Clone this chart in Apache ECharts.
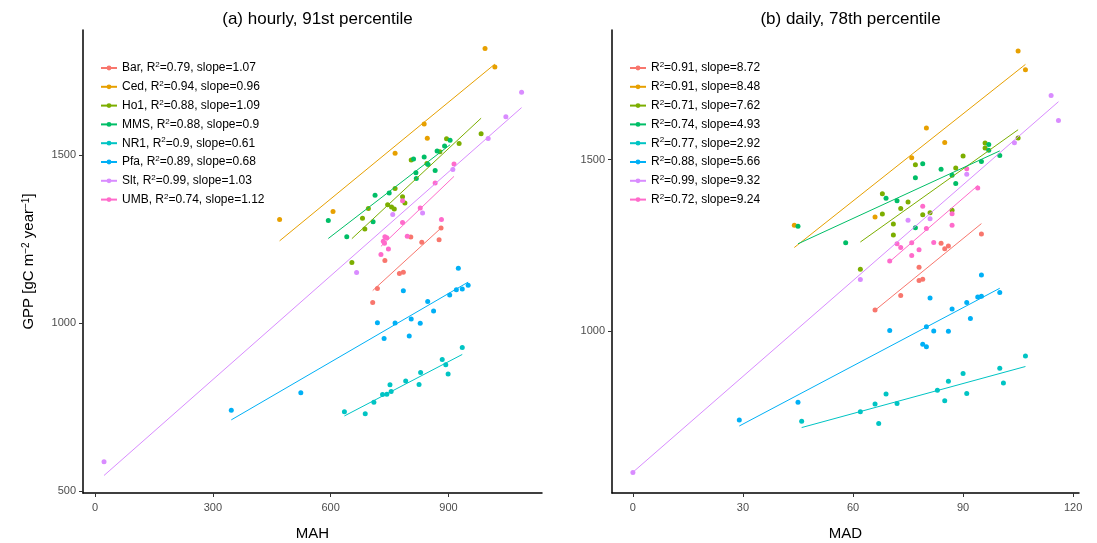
<!DOCTYPE html>
<html>
<head>
<meta charset="utf-8">
<script src="https://cdn.jsdelivr.net/npm/echarts@6/dist/echarts.min.js"></script>
<style>
  html, body { margin: 0; padding: 0; background: #fff; }
  #chart { width: 1097px; height: 543px; }
</style>
</head>
<body>
<div id="chart"></div>
<script>
// Sites and their colours
const SITES = ['Bar', 'Ced', 'Ho1', 'MMS', 'NR1', 'Pfa', 'Slt', 'UMB'];
const SITE_COLORS = ['#F8766D', '#E7A000', '#7CAE00', '#00BE67', '#00C4C4', '#00B0F6', '#D98CFF', '#FF6BCB'];

// Annual GPP per site-year, with matching MAH (hourly) and MAD (daily) values
const BAR_GPP = [1283, 1256, 1248, 1240, 1186, 1151, 1147, 1103, 1061];
const BAR_MAH = [881, 804, 876, 832, 738, 785, 775, 719, 707];
const BAR_MAD = [95, 84, 86, 85, 78, 79, 78, 73, 66];

const CED_GPP = [1817, 1762, 1592, 1550, 1505, 1332, 1308];
const CED_MAH = [993, 1018, 838, 846, 764, 606, 470];
const CED_MAD = [105, 107, 80, 85, 76, 66, 44];

const HO1_GPP = [1563, 1548, 1534, 1510, 1485, 1475, 1400, 1376, 1357, 1352, 1345, 1341, 1339, 1312, 1280, 1180];
const HO1_MAH = [983, 895, 927, 878, 805, 845, 764, 783, 789, 745, 755, 696, 762, 681, 687, 654];
const HO1_MAD = [105, 96, 96, 90, 77, 88, 68, 75, 73, 87, 81, 68, 79, 71, 71, 62];

const MMS_GPP = [1544, 1527, 1512, 1494, 1488, 1472, 1454, 1447, 1430, 1387, 1380, 1305, 1301, 1257];
const MMS_MAH = [904, 890, 871, 838, 811, 848, 866, 817, 818, 749, 713, 594, 708, 641];
const MMS_MAD = [97, 97, 100, 95, 79, 84, 87, 77, 88, 69, 72, 45, 77, 58];

const NR1_GPP = [927, 891, 876, 853, 848, 827, 817, 816, 796, 788, 787, 764, 736, 730];
const NR1_MAH = [935, 884, 893, 829, 899, 791, 825, 751, 754, 743, 732, 710, 635, 688];
const NR1_MAD = [107, 100, 90, 86, 101, 83, 91, 69, 85, 72, 66, 62, 46, 67];

const PFA_GPP = [1163, 1112, 1101, 1099, 1096, 1083, 1064, 1036, 1012, 1001, 1000, 999, 961, 954, 792, 740];
const PFA_MAH = [925, 950, 935, 920, 785, 903, 847, 862, 805, 719, 764, 828, 800, 736, 524, 347];
const PFA_MAD = [95, 100, 95, 94, 81, 91, 87, 92, 80, 70, 82, 86, 79, 80, 45, 29];

const SLT_GPP = [1687, 1614, 1549, 1457, 1327, 1323, 1150, 587];
const SLT_MAH = [1086, 1046, 1001, 911, 834, 758, 666, 23];
const SLT_MAD = [114, 116, 104, 91, 81, 75, 62, 0];

const UMB_GPP = [1473, 1417, 1364, 1342, 1308, 1299, 1258, 1257, 1254, 1243, 1237, 1220, 1204];
const UMB_MAH = [914, 866, 783, 828, 882, 783, 795, 738, 743, 734, 737, 747, 728];
const UMB_MAD = [91, 94, 79, 87, 87, 80, 82, 76, 72, 73, 78, 76, 70];

// Fit statistics shown in the legends
const R2_HOURLY = [0.79, 0.94, 0.88, 0.88, 0.9, 0.89, 0.99, 0.74];
const SLOPE_HOURLY = [1.07, 0.96, 1.09, 0.9, 0.61, 0.68, 1.03, 1.12];
const R2_DAILY = [0.91, 0.91, 0.71, 0.74, 0.77, 0.88, 0.99, 0.72];
const SLOPE_DAILY = [8.72, 8.48, 7.62, 4.93, 2.92, 5.66, 9.32, 9.24];

// Tick positions
const X_TICKS_HOURLY = [0, 300, 600, 900];
const X_TICKS_DAILY = [0, 30, 60, 90, 120];
const Y_TICKS_HOURLY = [500, 1000, 1500];
const Y_TICKS_DAILY = [1000, 1500];

const TITLES = ['(a) hourly, 91st percentile', '(b) daily, 78th percentile'];
const X_NAMES = ['MAH', 'MAD'];
const Y_NAME = 'GPP [gC m{sup|\u22122} year{sup|\u22121}]';

// ---- build the option ----
const GPP = [BAR_GPP, CED_GPP, HO1_GPP, MMS_GPP, NR1_GPP, PFA_GPP, SLT_GPP, UMB_GPP];
const MAH = [BAR_MAH, CED_MAH, HO1_MAH, MMS_MAH, NR1_MAH, PFA_MAH, SLT_MAH, UMB_MAH];
const MAD = [BAR_MAD, CED_MAD, HO1_MAD, MMS_MAD, NR1_MAD, PFA_MAD, SLT_MAD, UMB_MAD];

const FONT = "'Liberation Sans', Arial, Helvetica, sans-serif";
const mean = a => a.reduce((s, v) => s + v, 0) / a.length;

// least-squares line drawn through the means with the reported slope, over the x range
function fitLine(xs, ys, slope) {
  const mx = mean(xs), my = mean(ys);
  const x0 = Math.min(...xs), x1 = Math.max(...xs);
  return [[x0, my + slope * (x0 - mx)], [x1, my + slope * (x1 - mx)]];
}

const panels = [
  { xs: MAH, r2: R2_HOURLY, slope: SLOPE_HOURLY, tag: 'hourly', withSite: true },
  { xs: MAD, r2: R2_DAILY, slope: SLOPE_DAILY, tag: 'daily', withSite: false }
];

const series = [];
const legendLabels = {};
const legendNames = [[], []];
panels.forEach((p, pi) => {
  SITES.forEach((site, si) => {
    const name = site + ' (' + p.tag + ')';
    const lbl = (p.withSite ? site + ', ' : '') + 'R{sup|2}=' + p.r2[si] + ', slope=' + p.slope[si];
    legendLabels[name] = lbl;
    legendNames[pi].push(name);
    const xs = p.xs[si], ys = GPP[si];
    series.push({
      type: 'line', name, xAxisIndex: pi, yAxisIndex: pi,
      data: fitLine(xs, ys, p.slope[si]),
      showSymbol: false, symbol: 'circle', silent: true, z: 3,
      lineStyle: { width: 1, color: SITE_COLORS[si] },
      itemStyle: { color: SITE_COLORS[si] }
    });
    series.push({
      type: 'scatter', name, xAxisIndex: pi, yAxisIndex: pi,
      data: xs.map((x, k) => [x, ys[k]]),
      symbolSize: 5, z: 2,
      itemStyle: { color: SITE_COLORS[si], opacity: 1 }
    });
  });
});

const axisCommon = {
  type: 'value',
  splitLine: { show: false },
  axisLine: { show: true, onZero: false, lineStyle: { color: '#000', width: 1.5 } },
  axisTick: { show: true, length: 4, lineStyle: { color: '#333', width: 1 } },
  axisLabel: { color: '#4D4D4D', fontSize: 11, fontFamily: FONT, formatter: v => String(v) }
};

function xAxis(i, min, max, ticks) {
  return Object.assign({}, axisCommon, {
    gridIndex: i, min, max,
    name: X_NAMES[i], nameLocation: 'middle', nameGap: 33,
    nameTextStyle: { fontSize: 15, color: '#000', fontFamily: FONT },
    axisTick: Object.assign({}, axisCommon.axisTick, { customValues: ticks }),
    axisLabel: Object.assign({}, axisCommon.axisLabel, { customValues: ticks, margin: 9 })
  });
}
function yAxis(i, min, max, ticks, withName) {
  const ax = Object.assign({}, axisCommon, {
    gridIndex: i, min, max,
    axisTick: Object.assign({}, axisCommon.axisTick, { customValues: ticks }),
    axisLabel: Object.assign({}, axisCommon.axisLabel, { customValues: ticks, margin: 7 })
  });
  if (withName) {
    Object.assign(ax, {
      name: Y_NAME, nameLocation: 'middle', nameGap: 47, nameRotate: 90,
      nameTextStyle: {
        fontSize: 15, color: '#000', fontFamily: FONT,
        rich: { sup: { fontSize: 10, color: '#000', fontFamily: FONT, verticalAlign: 'top', lineHeight: 10 } }
      }
    });
  }
  return ax;
}

function legend(i, left) {
  return {
    orient: 'vertical', left, top: 61, padding: 0,
    itemWidth: 16, itemHeight: 6, itemGap: 4.8,
    data: legendNames[i],
    formatter: n => legendLabels[n],
    textStyle: {
      fontSize: 12, color: '#000', fontFamily: FONT, lineHeight: 14,
      rich: { sup: { fontSize: 8, color: '#000', fontFamily: FONT, verticalAlign: 'top', lineHeight: 8 } }
    }
  };
}

const option = {
  animation: false,
  backgroundColor: '#fff',
  title: [
    { text: TITLES[0], left: 312.5, top: 6, textAlign: 'center',
      textStyle: { fontSize: 17, fontWeight: 'normal', color: '#000', fontFamily: FONT } },
    { text: TITLES[1], left: 845.5, top: 6, textAlign: 'center',
      textStyle: { fontSize: 17, fontWeight: 'normal', color: '#000', fontFamily: FONT } }
  ],
  grid: [
    { left: 83, top: 30, width: 459, height: 463, outerBoundsMode: 'none' },
    { left: 612, top: 30, width: 467, height: 463, outerBoundsMode: 'none' }
  ],
  xAxis: [
    xAxis(0, -30.5, 1138, X_TICKS_HOURLY),
    xAxis(1, -5.7, 121.6, X_TICKS_DAILY)
  ],
  yAxis: [
    yAxis(0, 494, 1872, Y_TICKS_HOURLY, true),
    yAxis(1, 527, 1878, Y_TICKS_DAILY, false)
  ],
  legend: [legend(0, 100), legend(1, 629)],
  series
};

const chart = echarts.init(document.getElementById('chart'), null, { renderer: 'canvas' });
chart.setOption(option);
</script>
</body>
</html>
